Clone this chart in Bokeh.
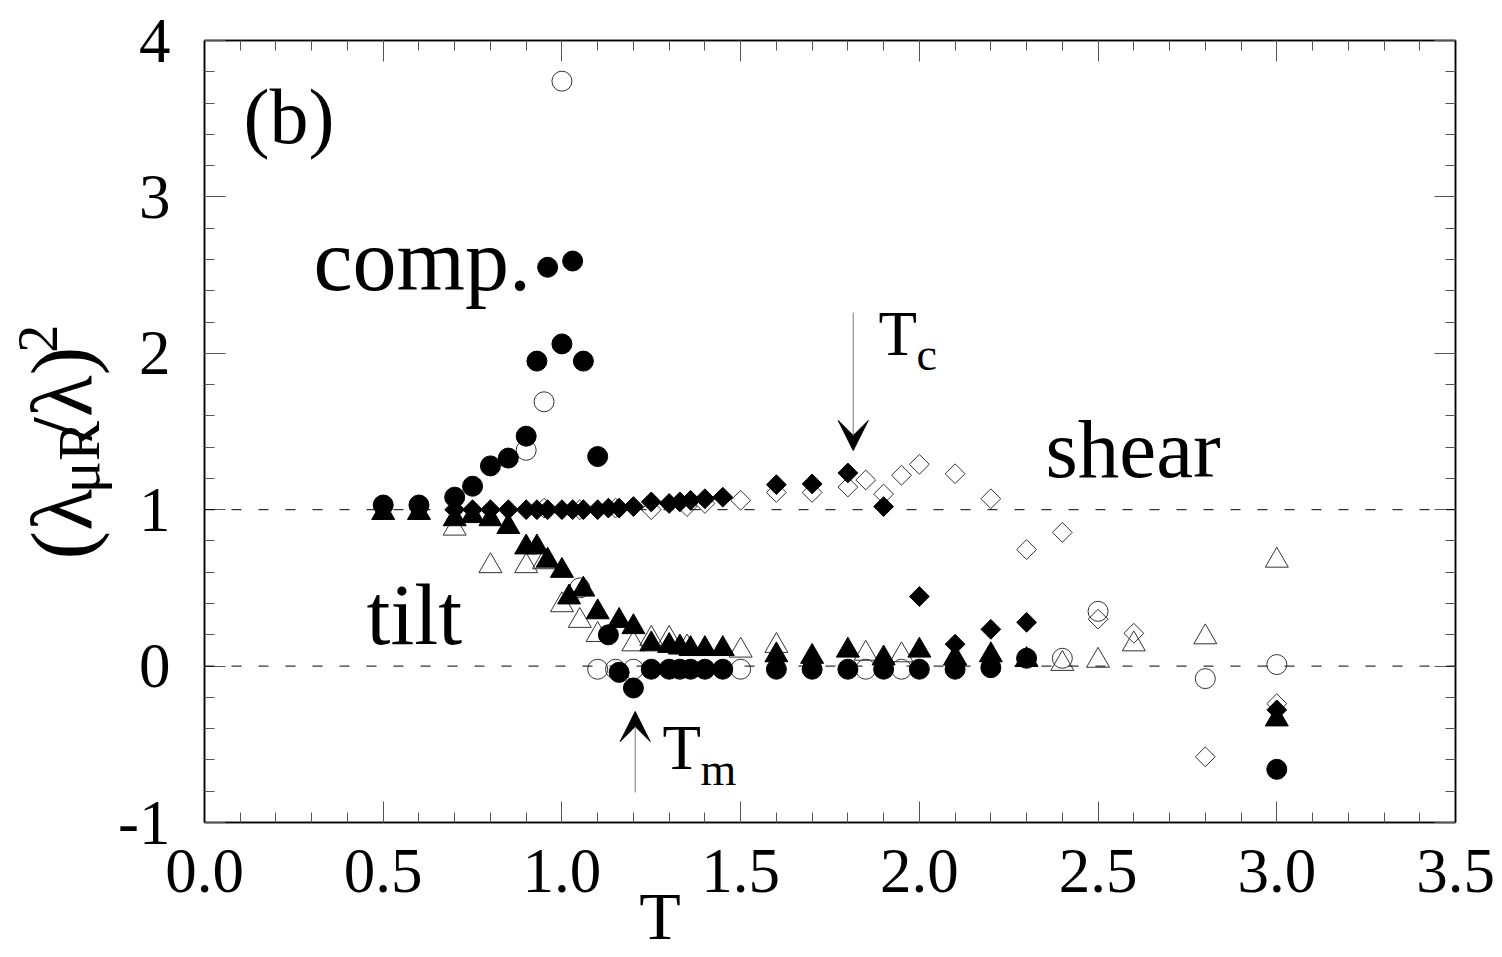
import math
from bokeh.plotting import figure
from bokeh.layouts import row
from bokeh.models import (Range1d, SingleIntervalTicker, LinearAxis, NumeralTickFormatter,
                          CustomJSTickFormatter, Span, Label, Arrow, VeeHead)
from bokeh.core.properties import value
from bokeh.embed import file_html
from bokeh.resources import INLINE

# ---------------- data ----------------
comp_filled_T = [0.5, 0.6, 0.7, 0.75, 0.8, 0.85, 0.9, 0.93, 0.96, 1.0, 1.03, 1.06, 1.1, 1.13,
                 1.16, 1.2, 1.25, 1.3, 1.33, 1.36, 1.4, 1.45, 1.6, 1.7, 1.8, 1.9, 2.0, 2.1,
                 2.2, 2.3, 3.0]
comp_filled_v = [1.03, 1.03, 1.08, 1.15, 1.28, 1.33, 1.47, 1.95, 2.55, 2.06, 2.59, 1.95, 1.34, 0.20,
                 -0.04, -0.14, -0.02, -0.02, -0.02, -0.02, -0.02, -0.02, -0.02, -0.02, -0.02, -0.02,
                 -0.02, -0.02, -0.01, 0.05, -0.66]

comp_open_T = [0.9, 0.95, 1.0, 1.05, 1.1, 1.15, 1.2, 1.5, 1.85, 1.95, 2.4, 2.5, 2.8, 3.0]
comp_open_v = [1.38, 1.69, 3.74, 0.50, -0.02, -0.02, -0.02, -0.02, -0.02, -0.02, 0.05, 0.35, -0.08, 0.01]

tilt_filled_T = [0.5, 0.6, 0.7, 0.75, 0.8, 0.85, 0.9, 0.93, 0.96, 1.0, 1.02, 1.06, 1.1, 1.16, 1.2,
                 1.25, 1.3, 1.33, 1.36, 1.4, 1.45, 1.6, 1.7, 1.8, 1.9, 2.0, 2.1, 2.2, 2.3, 3.0]
tilt_filled_v = [0.98, 0.98, 0.94, 0.96, 0.94, 0.89, 0.76, 0.76, 0.675, 0.61, 0.44, 0.49, 0.345, 0.29,
                 0.25, 0.14, 0.13, 0.12, 0.11, 0.11, 0.11, 0.07, 0.06, 0.10, 0.05, 0.10, 0.05, 0.07,
                 0.04, -0.34]

tilt_open_T = [0.7, 0.8, 0.9, 0.95, 1.0, 1.05, 1.1, 1.2, 1.25, 1.3, 1.35, 1.5, 1.6, 1.85, 1.95, 2.1,
               2.4, 2.5, 2.6, 2.8, 3.0]
tilt_open_v = [0.88, 0.64, 0.64, 0.665, 0.39, 0.29, 0.20, 0.14, 0.175, 0.175, 0.12, 0.10, 0.13, 0.08,
               0.07, 0.05, 0.015, 0.035, 0.14, 0.185, 0.675]

shear_filled_T = [0.7, 0.75, 0.8, 0.85, 0.9, 0.93, 0.96, 1.0, 1.03, 1.06, 1.1, 1.13, 1.16, 1.2, 1.25,
                  1.3, 1.33, 1.36, 1.4, 1.45, 1.6, 1.7, 1.8, 1.9, 2.0, 2.1, 2.2, 2.3, 3.0]
shear_filled_v = [1.0, 1.0, 1.0, 1.0, 1.0, 1.0, 1.0, 1.0, 1.0, 1.0, 1.0, 1.01, 1.01, 1.02, 1.05,
                  1.04, 1.05, 1.06, 1.07, 1.08, 1.16, 1.165, 1.235, 1.02, 0.445, 0.14, 0.235, 0.28, -0.28]

shear_open_T = [0.95, 1.05, 1.15, 1.25, 1.35, 1.4, 1.5, 1.6, 1.7, 1.8, 1.85, 1.9, 1.95, 2.0, 2.1, 2.2,
                2.3, 2.4, 2.5, 2.6, 2.8, 3.0]
shear_open_v = [1.01, 1.0, 1.01, 1.0, 1.02, 1.04, 1.06, 1.11, 1.11, 1.145, 1.19, 1.10, 1.22, 1.29, 1.23,
                1.07, 0.745, 0.855, 0.30, 0.21, -0.58, -0.24]

x_tick_format = "0.0"
x_axis_title = "T"
T_c, T_m = 1.815, 1.205

# ---------------- layout ----------------
W, H = 1502, 957
YL_W = 114                      # strip that carries the rotated y title
L, R, TOP, B = 204, 47, 40, 135
FW, FH = W - L - R, H - TOP - B
X0, X1, Y0, Y1 = 0.0, 3.5, -1.0, 4.0
FONT = "Liberation Serif"
BASE_FIX = 0.35                 # alphabetic-baseline correction (fraction of font size)
ROT_FIX = 60                    # measured offset of rotated text along its run


def dx(px):
    return X0 + (px - L) * (X1 - X0) / FW


def dy(py):
    return Y1 - (py - TOP) * (Y1 - Y0) / FH


p = figure(width=W - YL_W, height=H, x_range=Range1d(X0, X1), y_range=Range1d(Y0, Y1),
           output_backend="svg", toolbar_location=None,
           min_border_left=L - YL_W, min_border_right=R, min_border_top=TOP, min_border_bottom=B)
p.grid.visible = False
p.background_fill_color = "white"
p.border_fill_color = "white"
p.outline_line_color = "black"
p.outline_line_width = 1.5

bottom_ax = p.below[0]
left_ax = p.left[0]
bottom_ax.ticker = SingleIntervalTicker(interval=0.5, num_minor_ticks=5)
left_ax.ticker = SingleIntervalTicker(interval=1, num_minor_ticks=5)
bottom_ax.formatter = NumeralTickFormatter(format=x_tick_format)
left_ax.formatter = CustomJSTickFormatter(code="return tick.toFixed(0)")

top_ax = LinearAxis(ticker=SingleIntervalTicker(interval=0.5, num_minor_ticks=5),
                    formatter=CustomJSTickFormatter(code="return ''"))
right_ax = LinearAxis(ticker=SingleIntervalTicker(interval=1, num_minor_ticks=5),
                      formatter=CustomJSTickFormatter(code="return ''"))
p.add_layout(top_ax, "above")
p.add_layout(right_ax, "right")

for ax in [bottom_ax, left_ax, top_ax, right_ax]:
    ax.major_tick_in = 21
    ax.major_tick_out = 0
    ax.minor_tick_in = 10
    ax.minor_tick_out = 0
    ax.major_tick_line_color = "#555555"
    ax.minor_tick_line_color = "#555555"
    ax.axis_line_color = "black"
    ax.axis_line_width = 1.5
    ax.major_label_text_font = FONT
    ax.major_label_text_font_size = "63px"
    ax.major_label_text_color = "black"

top_ax.major_label_text_font_size = "1px"
right_ax.major_label_text_font_size = "1px"
top_ax.major_label_standoff = 0
right_ax.major_label_standoff = 0

bottom_ax.major_label_standoff = 27
left_ax.major_label_standoff = 34
# non-breaking spaces push the single-letter title left of the frame centre, as in the original
bottom_ax.axis_label = x_axis_title + "\u00a0" * 20
bottom_ax.axis_label_text_font = FONT
bottom_ax.axis_label_text_font_size = "68px"
bottom_ax.axis_label_text_font_style = "normal"
bottom_ax.axis_label_text_color = "black"
bottom_ax.axis_label_standoff = -17

# dashed reference lines
for loc in (0, 1):
    p.add_layout(Span(location=loc, dimension="width", line_color="black", line_width=1,
                      line_dash="10 17"))

# ---------------- markers ----------------
OPEN = dict(fill_alpha=0, line_color="#333333", line_width=1)
FILL = dict(fill_color="black", line_color="black", line_width=1)

p.scatter(comp_open_T, comp_open_v, marker="circle", size=20, **OPEN)
p.scatter(tilt_open_T, tilt_open_v, marker="triangle", size=23, **OPEN)
p.scatter(shear_open_T, shear_open_v, marker="square", angle=math.pi / 4, size=14, **OPEN)
p.scatter(shear_filled_T, shear_filled_v, marker="square", angle=math.pi / 4, size=14, **FILL)
p.scatter(tilt_filled_T, tilt_filled_v, marker="triangle", size=23, **FILL)
p.scatter(comp_filled_T, comp_filled_v, marker="circle", size=20, **FILL)


# ---------------- annotations inside the frame ----------------
def lab(text, px, py, size, align="left"):
    p.add_layout(Label(x=dx(px), y=dy(py - BASE_FIX * size), text=text, text_font=FONT,
                       text_font_size=f"{size}px", text_color="black",
                       text_align=align, text_baseline="alphabetic"))


lab("(b)", 243, 143, 78)
lab("comp.", 313, 291, 88)
lab("shear", 1045, 478, 83)
lab("tilt", 366, 645, 86)
lab("T", 878, 356, 63)
lab("c", 916, 370, 46)
lab("T", 662, 770, 63)
lab("m", 700, 785, 46)

# arrows
p.add_layout(Arrow(end=VeeHead(size=30, fill_color="black", line_color="black", line_width=1),
                   x_start=T_c, y_start=dy(312), x_end=T_c, y_end=dy(450),
                   line_color="#777777", line_width=1))
p.add_layout(Arrow(end=VeeHead(size=30, fill_color="black", line_color="black", line_width=1),
                   x_start=T_m, y_start=dy(792), x_end=T_m, y_end=dy(711),
                   line_color="#777777", line_width=1))

# ---------------- y title strip (rotated, with sub/superscripts) ----------------
yf = figure(width=YL_W, height=H, x_range=Range1d(0, YL_W), y_range=Range1d(H, 0),
            output_backend="svg", toolbar_location=None, min_border=0)
yf.axis.visible = False
yf.grid.visible = False
yf.outline_line_color = None
yf.background_fill_color = "white"
yf.border_fill_color = "white"


def ylab(text, px, py, size):
    yf.text(x=[px - BASE_FIX * size], y=[py + ROT_FIX], text=[text], angle=math.pi / 2,
            text_font=value(FONT), text_font_size=value(f"{size}px"), text_color="black",
            text_align="left", text_baseline="alphabetic")


ylab("(\u03bb", 92, 575, 86)
ylab("\u03bcR", 99, 494, 60)
ylab("/\u03bb)", 92, 430, 86)
ylab("2", 57, 322, 56)

layout = row(yf, p, spacing=0)
open("out.html", "w").write(file_html(layout, INLINE))
